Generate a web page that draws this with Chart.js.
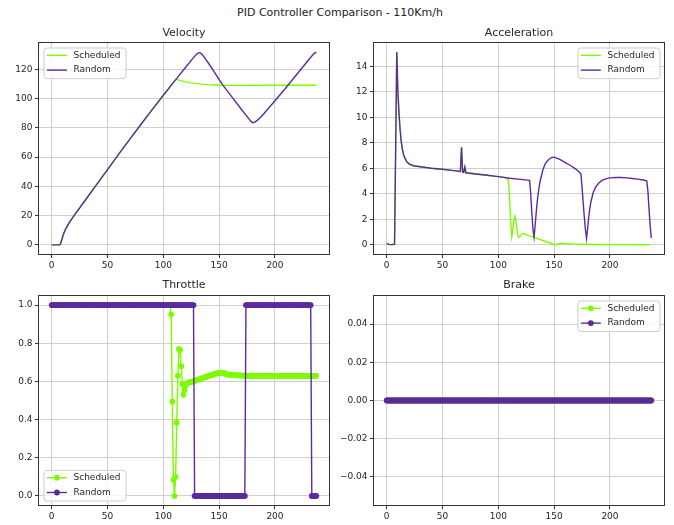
<!DOCTYPE html>
<html>
<head>
<meta charset="utf-8">
<script src="https://cdn.jsdelivr.net/npm/chart.js@4.4.0/dist/chart.umd.min.js"></script>
<style>
  body { margin: 0; background: #fff; }
  #fig { position: relative; width: 674px; height: 525px; font-family: "DejaVu Sans", sans-serif; }
  #suptitle { position: absolute; left: 3px; top: 5px; width: 674px; text-align: center; font-size: 11px; line-height: 16px; color: #222; }
  canvas { position: absolute; }
</style>
</head>
<body>
<div id="fig">
  <div id="suptitle">PID Controller Comparison - 110Km/h</div>
  <canvas id="velocity" width="337" height="250" style="left:0;top:20px"></canvas>
  <canvas id="accel" width="337" height="250" style="left:337px;top:20px"></canvas>
  <canvas id="throttle" width="337" height="253" style="left:0;top:272px"></canvas>
  <canvas id="brake" width="337" height="253" style="left:337px;top:272px"></canvas>
</div>
<script>
// ---- data ----
const xTicks = [0, 50, 100, 150, 200];
const velTicks = [0, 20, 40, 60, 80, 100, 120];
const accTicks = [0, 2, 4, 6, 8, 10, 12, 14];
const thrTicks = [0, 0.2, 0.4, 0.6, 0.8, 1.0];
const brkTicks = [-0.04, -0.02, 0, 0.02, 0.04];

// Velocity
const velRandomX = [0,7,8,9,10,11,12,13,14,16,18,20,30,40,50,60,70,80,90,100,110,120,125,128,130,131,132,133,134,136,138,140,145,150,153,160,170,174,176,177,178,179,180,181,182,184,186,188,190,195,200,210,220,230,233,235,237];
const velRandom = [0,0,1,3.5,6,8.2,10,11.6,13,15.5,17.8,20,30.5,41,51.5,62,72.3,82.5,92.5,102.3,112,121.5,126.2,128.9,130.5,131.1,131.4,131.3,130.8,129.0,126.9,124.7,119.0,113.0,109.6,102.6,92.6,88.7,86.8,85.8,84.8,84.1,83.7,83.7,84.0,85.1,86.5,88.0,89.7,94.1,98.6,107.6,117.0,126.4,129.2,130.8,131.8];
const velSchedX = [0,7,8,9,10,11,12,13,14,16,18,20,30,40,50,60,70,80,90,100,110,111,112,113,115,120,125,130,135,140,150,160,200,237];
const velSched = [0,0,1,3.5,6,8.2,10,11.6,13,15.5,17.8,20,30.5,41,51.5,62,72.3,82.5,92.5,102.3,112,112.8,113.1,113.0,112.5,111.5,110.8,110.3,109.9,109.6,109.2,109.1,109.2,109.2];

// Acceleration
const accRandomX = [0,1,2,3,5,7,8,9,10,11,12,13,14,15,16,18,20,24,30,40,50,60,66,67,68,69,70,71,80,90,100,110,120,128,129,130,131,132,133,134,135,136,137,138,140,142,144,146,148,150,152,155,160,165,170,173,174,175,176,177,178,179,180,181,182,183,185,187,190,193,196,200,205,210,215,220,225,230,233,234,235,236,237];
const accRandom = [0.12,0.08,0.04,0.02,0.03,0.05,7.5,15.1,12.0,10.3,9.0,8.1,7.5,7.1,6.85,6.5,6.35,6.2,6.12,6.0,5.92,5.82,5.75,7.65,5.7,5.68,6.1,5.65,5.55,5.45,5.35,5.22,5.13,5.05,4.0,2.5,1.2,0.6,1.6,2.6,3.5,4.2,4.8,5.2,5.9,6.35,6.6,6.75,6.85,6.87,6.8,6.7,6.45,6.2,5.9,5.65,5.55,4.5,3.3,2.2,1.2,0.5,1.3,2.2,2.9,3.4,4.1,4.5,4.85,5.05,5.17,5.25,5.28,5.28,5.25,5.2,5.15,5.08,5.0,4.2,2.8,1.5,0.55];
const accSchedX = [0,1,2,3,5,7,8,9,10,11,12,13,14,15,16,18,20,24,30,40,50,60,66,67,68,69,70,71,80,90,100,108,109,110,111,112,113,114,115,116,117,118,119,120,121,122,123,125,128,132,137,140,146,150,151,153,156,158,165,175,190,210,236];
const accSched = [0.12,0.08,0.04,0.02,0.03,0.05,7.5,15.1,12.0,10.3,9.0,8.1,7.5,7.1,6.85,6.5,6.35,6.2,6.12,6.0,5.92,5.82,5.75,7.65,5.7,5.68,6.1,5.65,5.55,5.45,5.35,5.25,5.0,3.8,1.8,0.62,1.2,2.0,2.25,1.7,0.95,0.6,0.62,0.72,0.85,0.9,0.88,0.8,0.7,0.6,0.42,0.34,0.15,0.03,0.0,0.05,0.13,0.12,0.08,0.05,0.03,0.02,0.01];

// Throttle, one value per step 0..237
const thrSched = [
  1,1,1,1,1,1,1,1,1,1, 1,1,1,1,1,1,1,1,1,1,
  1,1,1,1,1,1,1,1,1,1, 1,1,1,1,1,1,1,1,1,1,
  1,1,1,1,1,1,1,1,1,1, 1,1,1,1,1,1,1,1,1,1,
  1,1,1,1,1,1,1,1,1,1, 1,1,1,1,1,1,1,1,1,1,
  1,1,1,1,1,1,1,1,1,1, 1,1,1,1,1,1,1,1,1,1,
  1,1,1,1,1,1,1,
  0.95,0.495,0.085,0,0.10,0.385,0.63,0.77,0.765,0.68,
  0.585,0.53,0.555,0.58,0.59,0.593,0.595,0.596,
  0.597,0.599,0.601,0.603,0.605,0.607,0.609,0.611,0.613,0.615,
  0.617,0.619,0.621,0.623,0.625,0.627,0.629,0.631,0.633,0.635,
  0.637,0.639,0.641,0.642,0.643,0.644,0.645,0.646,0.646,0.645,
  0.642,0.639,0.637,0.636,0.635,0.635,
  0.634,0.634,0.633,0.633,0.633,0.632,0.632,0.632,0.631,0.631,
  0.63,0.63,0.63,0.63,0.63,0.63,0.63,0.63,0.63,0.63,
  0.629,0.629,0.629,0.629,0.629,0.629,0.629,0.629,0.629,0.629,
  0.629,0.629,0.629,0.629,0.629,0.629,0.629,0.629,0.629,0.629,
  0.629,0.629,0.629,0.629,0.629,0.629,0.629,0.629,0.629,0.629,
  0.629,0.629,0.629,0.629,0.629,0.629,0.629,0.629,0.629,0.629,
  0.629,0.629,0.629,0.629,0.629,0.629,0.629,0.629,0.629,0.629,
  0.629,0.629,0.629,0.629,0.629,0.629,0.629
];
const thrRandom = [
  1,1,1,1,1,1,1,1,1,1,1,1,1,1,1,1,1,1,1,1,
  1,1,1,1,1,1,1,1,1,1,1,1,1,1,1,1,1,1,1,1,
  1,1,1,1,1,1,1,1,1,1,1,1,1,1,1,1,1,1,1,1,
  1,1,1,1,1,1,1,1,1,1,1,1,1,1,1,1,1,1,1,1,
  1,1,1,1,1,1,1,1,1,1,1,1,1,1,1,1,1,1,1,1,
  1,1,1,1,1,1,1,1,1,1,1,1,1,1,1,1,1,1,1,1,
  1,1,1,1,1,1,1,1,0,0,0,0,0,0,0,0,0,0,0,0,
  0,0,0,0,0,0,0,0,0,0,0,0,0,0,0,0,0,0,0,0,
  0,0,0,0,0,0,0,0,0,0,0,0,0,0,1,1,1,1,1,1,
  1,1,1,1,1,1,1,1,1,1,1,1,1,1,1,1,1,1,1,1,
  1,1,1,1,1,1,1,1,1,1,1,1,1,1,1,1,1,1,1,1,
  1,1,1,1,1,1,1,1,1,1,1,1,1,0,0,0,0,0
];

// Brake, one value per step 0..237
const brkSched = [
  0,0,0,0,0,0,0,0,0,0,0,0,0,0,0,0,0,0,0,0,
  0,0,0,0,0,0,0,0,0,0,0,0,0,0,0,0,0,0,0,0,
  0,0,0,0,0,0,0,0,0,0,0,0,0,0,0,0,0,0,0,0,
  0,0,0,0,0,0,0,0,0,0,0,0,0,0,0,0,0,0,0,0,
  0,0,0,0,0,0,0,0,0,0,0,0,0,0,0,0,0,0,0,0,
  0,0,0,0,0,0,0,0,0,0,0,0,0,0,0,0,0,0,0,0,
  0,0,0,0,0,0,0,0,0,0,0,0,0,0,0,0,0,0,0,0,
  0,0,0,0,0,0,0,0,0,0,0,0,0,0,0,0,0,0,0,0,
  0,0,0,0,0,0,0,0,0,0,0,0,0,0,0,0,0,0,0,0,
  0,0,0,0,0,0,0,0,0,0,0,0,0,0,0,0,0,0,0,0,
  0,0,0,0,0,0,0,0,0,0,0,0,0,0,0,0,0,0,0,0,
  0,0,0,0,0,0,0,0,0,0,0,0,0,0,0,0,0,0
];
const brkRandom = [
  0,0,0,0,0,0,0,0,0,0,0,0,0,0,0,0,0,0,0,0,
  0,0,0,0,0,0,0,0,0,0,0,0,0,0,0,0,0,0,0,0,
  0,0,0,0,0,0,0,0,0,0,0,0,0,0,0,0,0,0,0,0,
  0,0,0,0,0,0,0,0,0,0,0,0,0,0,0,0,0,0,0,0,
  0,0,0,0,0,0,0,0,0,0,0,0,0,0,0,0,0,0,0,0,
  0,0,0,0,0,0,0,0,0,0,0,0,0,0,0,0,0,0,0,0,
  0,0,0,0,0,0,0,0,0,0,0,0,0,0,0,0,0,0,0,0,
  0,0,0,0,0,0,0,0,0,0,0,0,0,0,0,0,0,0,0,0,
  0,0,0,0,0,0,0,0,0,0,0,0,0,0,0,0,0,0,0,0,
  0,0,0,0,0,0,0,0,0,0,0,0,0,0,0,0,0,0,0,0,
  0,0,0,0,0,0,0,0,0,0,0,0,0,0,0,0,0,0,0,0,
  0,0,0,0,0,0,0,0,0,0,0,0,0,0,0,0,0,0
];

// ---- styling ----
const SCHED = '#7cfc00';
const RAND = '#5b2a9e';
const GRID = '#cfcfcf';
const TICK = '#333333';

Chart.defaults.font.family = '"DejaVu Sans", sans-serif';
Chart.defaults.font.size = 9;
Chart.defaults.color = '#262626';
Chart.defaults.animation = false;

const lineData = (xs, ys) => xs.map((x, i) => ({ x: x, y: ys[i] }));
const stepData = ys => ys.map((y, i) => ({ x: i, y: y }));

// frame + matplotlib-like legend inside the axes
const mplPlugin = {
    id: 'mpl',
    afterDraw(chart, args, opts) {
        const { ctx, chartArea: a } = chart;
        ctx.save();
        ctx.strokeStyle = '#333';
        ctx.lineWidth = 1;
        ctx.strokeRect(a.left, a.top, a.right - a.left, a.bottom - a.top);

        const items = [{ text: 'Scheduled', color: SCHED }, { text: 'Random', color: RAND }];
        ctx.font = '9px "DejaVu Sans"';
        const tw = Math.max(...items.map(it => ctx.measureText(it.text).width));
        const w = 3.4 + 20 + 6.6 + tw + 5;
        const h = 30.6;
        const x = opts.loc.includes('left') ? a.left + 5 : a.right - 5 - w;
        const y = opts.loc.includes('upper') ? a.top + 5 : a.bottom - 5 - h;
        ctx.beginPath();
        ctx.roundRect(x + 0.5, y + 0.5, w, h, 3);
        ctx.fillStyle = 'rgba(255,255,255,0.8)';
        ctx.fill();
        ctx.strokeStyle = '#cccccc';
        ctx.stroke();
        items.forEach((it, i) => {
            const cy = y + 7.8 + i * 14.8;
            ctx.strokeStyle = it.color;
            ctx.lineWidth = 1.4;
            ctx.beginPath();
            ctx.moveTo(x + 3.4, cy);
            ctx.lineTo(x + 23.4, cy);
            ctx.stroke();
            if (opts.markers) {
                ctx.fillStyle = it.color;
                ctx.beginPath();
                ctx.arc(x + 13.4, cy, 2.9, 0, Math.PI * 2);
                ctx.fill();
            }
            ctx.fillStyle = '#262626';
            ctx.textBaseline = 'middle';
            ctx.textAlign = 'left';
            ctx.fillText(it.text, x + 30, cy);
        });
        ctx.restore();
    }
};

const xAxis = height => ({
    type: 'linear', min: -11.85, max: 248.85,
    afterBuildTicks: s => { s.ticks = xTicks.map(v => ({ value: v })); },
    afterFit: s => { s.height = height; },
    ticks: { autoSkip: false, maxRotation: 0, padding: 2, callback: v => String(v) },
    grid: { color: GRID, tickColor: TICK, tickLength: 3.5 },
    border: { display: false }
});

const yAxis = (min, max, tickVals, fmt, width) => ({
    type: 'linear', min: min, max: max,
    afterBuildTicks: s => { s.ticks = tickVals.map(v => ({ value: v })); },
    afterFit: s => { s.width = width; },
    ticks: { autoSkip: false, padding: 2.5, callback: fmt },
    grid: { color: GRID, tickColor: TICK, tickLength: 3.5 },
    border: { display: false }
});

const makeChart = (id, cfg) => new Chart(document.getElementById(id), {
    type: 'line',
    data: { datasets: cfg.datasets },
    options: {
        responsive: false,
        devicePixelRatio: 1,
        layout: { padding: { left: 0, right: cfg.padRight, top: 0, bottom: 0 } },
        scales: { x: xAxis(cfg.xHeight), y: cfg.y },
        plugins: {
            legend: { display: false },
            tooltip: { enabled: false },
            title: {
                display: true, text: cfg.title, fullSize: false, color: '#262626',
                font: { size: 11, weight: 'normal' }, padding: cfg.titlePad
            },
            mpl: { loc: cfg.legend, markers: cfg.markers }
        }
    },
    plugins: [mplPlugin]
});

const lineSet = (label, data, color, order) => ({
    label: label, data: data, borderColor: color, backgroundColor: color,
    borderWidth: 1.4, pointRadius: 0, tension: 0, order: order
});
const markSet = (label, data, color, order) => ({
    label: label, data: data, borderColor: color, backgroundColor: color,
    borderWidth: 1.4, pointRadius: 2.9, pointBorderWidth: 0, pointBackgroundColor: color,
    tension: 0, order: order
});

makeChart('velocity', {
    title: 'Velocity', titlePad: { top: 6.7, bottom: 2.6 }, padRight: 7.5, xHeight: 15.5,
    legend: 'upper left', markers: false,
    y: yAxis(-6.59, 138.39, velTicks, v => String(v), 38.5),
    datasets: [
        lineSet('Scheduled', lineData(velSchedX, velSched), SCHED, 1),
        lineSet('Random', lineData(velRandomX, velRandom), RAND, 0)
    ]
});

makeChart('accel', {
    title: 'Acceleration', titlePad: { top: 6.7, bottom: 2.6 }, padRight: 9.5, xHeight: 15.5,
    legend: 'upper right', markers: false,
    y: yAxis(-0.755, 15.855, accTicks, v => String(v), 36.5),
    datasets: [
        lineSet('Scheduled', lineData(accSchedX, accSched), SCHED, 1),
        lineSet('Random', lineData(accRandomX, accRandom), RAND, 0)
    ]
});

makeChart('throttle', {
    title: 'Throttle', titlePad: { top: 6.4, bottom: 3.9 }, padRight: 7.5, xHeight: 19.5,
    legend: 'lower left', markers: true,
    y: yAxis(-0.05, 1.05, thrTicks, v => v.toFixed(1), 38.5),
    datasets: [
        markSet('Scheduled', stepData(thrSched), SCHED, 1),
        markSet('Random', stepData(thrRandom), RAND, 0)
    ]
});

makeChart('brake', {
    title: 'Brake', titlePad: { top: 6.4, bottom: 3.9 }, padRight: 9.5, xHeight: 19.5,
    legend: 'upper right', markers: true,
    y: yAxis(-0.055, 0.055, brkTicks, v => v.toFixed(2).replace('-', '\u2212'), 36.5),
    datasets: [
        markSet('Scheduled', stepData(brkSched), SCHED, 1),
        markSet('Random', stepData(brkRandom), RAND, 0)
    ]
});
</script>
</body>
</html>
